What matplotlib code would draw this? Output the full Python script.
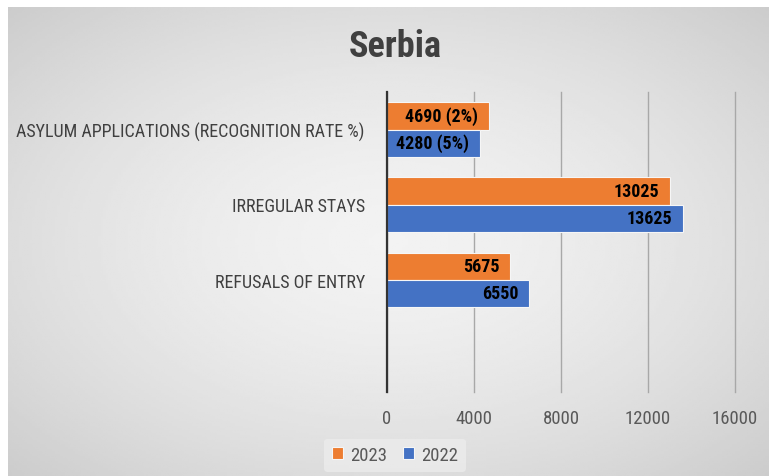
import numpy as np
from matplotlib import pyplot as plt
from matplotlib import font_manager

# data
categories = ["REFUSALS OF ENTRY", "IRREGULAR STAYS", "ASYLUM APPLICATIONS (RECOGNITION RATE %)"]
values_2023 = [5675, 13025, 4690]
values_2022 = [6550, 13625, 4280]
labels_2023 = ["5675", "13025", "4690 (2%)"]
labels_2022 = ["6550", "13625", "4280 (5%)"]
xticks = [0, 4000, 8000, 12000, 16000]

# pick a narrow, Calibri-like face if one is there
installed = {f.name for f in font_manager.fontManager.ttflist}
font = 'DejaVu Sans'
for cand in ['Liberation Sans Narrow', 'Roboto Condensed', 'Open Sans Condensed', 'Lato']:
    if cand in installed:
        font = cand
        break
plt.rcParams['font.family'] = [font, 'DejaVu Sans']

orange = '#ED7D31'
blue = '#4472C4'

W, H = 769, 477
fig = plt.figure(figsize=(W / 100, H / 100), dpi=100)
fig.patch.set_facecolor('white')

# gray radial gradient background of the chart area
bg = fig.add_axes([8 / W, 0, 1 - 8 / W, 1 - 8 / H])
yy, xx = np.mgrid[-1:1:200j, -1:1:300j]
r = np.sqrt(xx ** 2 + yy ** 2) / np.sqrt(2)
bg.imshow(0.95 - 0.15 * r ** 1.6, cmap='gray', vmin=0, vmax=1, aspect='auto',
          extent=[0, 1, 0, 1])
bg.set_axis_off()

ax = fig.add_axes([387 / W, 1 - 393 / H, (735 - 387) / W, (393 - 93) / H])
ax.patch.set_alpha(0)

pos = np.arange(1, len(categories) + 1)
h = 0.36
b23 = ax.barh(pos + h / 2, values_2023, height=h, color=orange, edgecolor='#f6f6f6',
              linewidth=0.8, label='2023')
b22 = ax.barh(pos - h / 2, values_2022, height=h, color=blue, edgecolor='#f6f6f6',
              linewidth=0.8, label='2022')

for bars, labs in [(b23, labels_2023), (b22, labels_2022)]:
    for bar, lab in zip(bars, labs):
        ax.annotate(lab, (bar.get_width(), bar.get_y() + bar.get_height() / 2),
                    xytext=(-8, 0), textcoords='offset points', ha='right', va='center',
                    fontsize=13, fontweight='bold', color='black')

ax.set_xlim(0, 16000)
ax.set_ylim(-0.5, 3.5)
ax.set_xticks(xticks)
ax.set_xticklabels([str(t) for t in xticks], fontsize=13.5, color='#595959')
ax.set_yticks(pos)
ax.set_yticklabels(categories, fontsize=13, color='#404040')
ax.tick_params(axis='both', length=0)
ax.tick_params(axis='x', pad=12)
ax.tick_params(axis='y', pad=16)

ax.grid(axis='x', color='#a8a8a8', linewidth=1)
for gl in ax.get_xgridlines():
    gl.set_clip_on(False)
ax.set_axisbelow(True)
for s in ['top', 'right', 'bottom']:
    ax.spines[s].set_visible(False)
ax.spines['left'].set_color('#333333')
ax.spines['left'].set_linewidth(1.6)

fig.text(395 / W, 1 - 47 / H, 'Serbia', ha='center', va='center', fontsize=26,
         fontweight='bold', color='#404040')

fig.legend(handles=[b23, b22], loc='center', bbox_to_anchor=(395 / W, 1 - 456 / H),
           ncol=2, frameon=True, facecolor='#ececec', edgecolor='none', framealpha=0.8,
           fontsize=13.5, handlelength=0.6, handleheight=0.6, handletextpad=0.4,
           columnspacing=0.8, labelcolor='#595959')

fig.savefig('out.png', dpi=100)
